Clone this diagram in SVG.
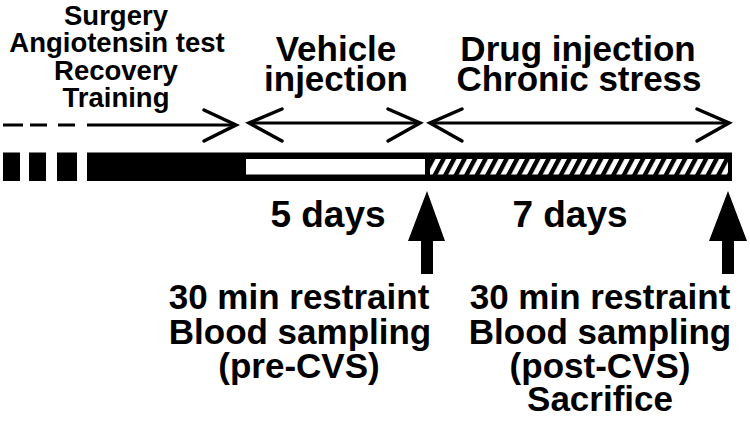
<svg xmlns="http://www.w3.org/2000/svg" width="750" height="427" viewBox="0 0 750 427">
<style>
text{font-family:"Liberation Sans",Arial,sans-serif;font-weight:bold;fill:#000;text-anchor:middle}
.s{font-size:27.5px}
.b{font-size:35px}
.d{font-size:37px}
.ln{stroke:#000;stroke-width:3;fill:none;stroke-linecap:butt}
.hd{stroke:#000;stroke-width:3.5;fill:none;stroke-linecap:round;stroke-linejoin:miter}
</style>
<defs>
<pattern id="hatch" patternUnits="userSpaceOnUse" width="10.5" height="20" patternTransform="translate(431,0) skewX(-28)">
<rect width="10.5" height="20" fill="#fff"/>
<rect x="0" y="0" width="5" height="20" fill="#000"/>
</pattern>
</defs>
<rect width="750" height="427" fill="#fff"/>
<g id="label-pre">
<text class="s" x="116" y="25">Surgery</text>
<text class="s" x="117" y="52">Angiotensin test</text>
<text class="s" x="116" y="80">Recovery</text>
<text class="s" x="116" y="107">Training</text>
</g>
<g id="label-vehicle">
<text class="b" x="336" y="61">Vehicle</text>
<text class="b" x="336" y="91">injection</text>
</g>
<g id="label-drug">
<text class="b" x="578" y="61">Drug injection</text>
<text class="b" x="579" y="91">Chronic stress</text>
</g>
<g id="connectors">
<line class="ln" x1="3" y1="125" x2="23" y2="125"/>
<line class="ln" x1="30" y1="125" x2="47" y2="125"/>
<line class="ln" x1="58" y1="125" x2="75" y2="125"/>
<line class="ln" x1="87" y1="125" x2="236" y2="125"/>
<polyline class="hd" points="204,110 236,125 204,141"/>
<line class="ln" x1="249" y1="123" x2="420" y2="123"/>
<polyline class="hd" points="282,109 249,123 282,141"/>
<polyline class="hd" points="388,109 420,123 388,141"/>
<line class="ln" x1="430" y1="123" x2="729" y2="123"/>
<polyline class="hd" points="462,109 430,123 462,141"/>
<polyline class="hd" points="697,109 729,123 697,141"/>
</g>
<g id="timeline">
<rect x="3" y="152.5" width="17" height="28.5" fill="#000"/>
<rect x="29" y="152.5" width="17" height="28.5" fill="#000"/>
<rect x="57" y="152.5" width="20" height="28.5" fill="#000"/>
<rect x="87" y="152.5" width="645" height="28.5" fill="#000"/>
<rect x="246" y="159" width="179" height="15.5" fill="#fff"/>
<rect x="430" y="159" width="298" height="15.5" fill="url(#hatch)"/>
</g>
<g id="label-5days"><text class="d" x="328" y="227">5 days</text></g>
<g id="label-7days"><text class="d" x="570" y="227">7 days</text></g>
<g id="arrow-pre">
<polygon points="427,191 408,241 421,241 421,274 433,274 433,241 445,241" fill="#000"/>
</g>
<g id="arrow-post">
<polygon points="728,191 709,241 722,241 722,274 734,274 734,241 747,241" fill="#000"/>
</g>
<g id="label-precvs">
<text class="b" x="299" y="309">30 min restraint</text>
<text class="b" x="300" y="344">Blood sampling</text>
<text class="b" x="299" y="378">(pre-CVS)</text>
</g>
<g id="label-postcvs">
<text class="b" x="600" y="309">30 min restraint</text>
<text class="b" x="600" y="344">Blood sampling</text>
<text class="b" x="600" y="378">(post-CVS)</text>
<text class="b" x="600" y="411">Sacrifice</text>
</g>
</svg>
